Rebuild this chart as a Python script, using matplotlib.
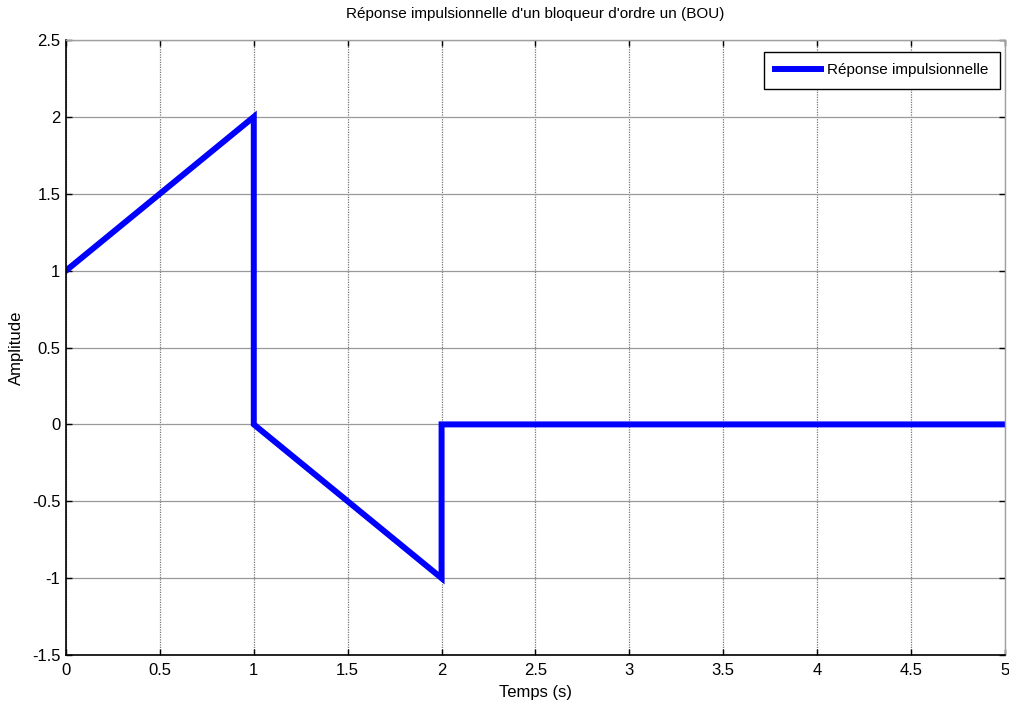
import matplotlib
matplotlib.use('Agg')
import matplotlib.pyplot as plt

# Réponse impulsionnelle du bloqueur d'ordre un
temps = [0, 1, 1, 2, 2, 5]
amplitude = [1, 2, 0, -1, 0, 0]
xticks = [0, 0.5, 1, 1.5, 2, 2.5, 3, 3.5, 4, 4.5, 5]
yticks = [-1.5, -1, -0.5, 0, 0.5, 1, 1.5, 2, 2.5]

plt.rcParams['font.family'] = ['Liberation Sans', 'DejaVu Sans']

fig = plt.figure(figsize=(10.09, 7.13), dpi=100)
ax = fig.add_axes([0.0654, 0.0813, 0.9306, 0.8626])

ax.plot(temps, amplitude, color='#0000ff', linewidth=4.3, label='Réponse impulsionnelle',
        solid_joinstyle='miter')

ax.set_xlim(0, 5)
ax.set_ylim(-1.5, 2.5)
ax.set_xticks(xticks)
ax.set_xticklabels(['0', '0.5', '1', '1.5', '2', '2.5', '3', '3.5', '4', '4.5', '5'])
ax.set_yticks(yticks)
ax.set_yticklabels(['-1.5', '-1', '-0.5', '0', '0.5', '1', '1.5', '2', '2.5'])
ax.tick_params(direction='in', length=4, width=1, labelsize=12, top=True, right=True)
ax.tick_params(axis='x', pad=6)
ax.tick_params(axis='y', pad=4)
# grille : horizontale continue, verticale pointillée
ax.yaxis.grid(True, color='#999999', linestyle='-', linewidth=0.9)
ax.xaxis.grid(True, color='#777777', linestyle=(0, (1, 1)), linewidth=0.9)

for s in ['left', 'bottom']:
    ax.spines[s].set_color('black')
    ax.spines[s].set_linewidth(1.2)
for s in ['top', 'right']:
    ax.spines[s].set_color('#a0a0a0')
    ax.spines[s].set_linewidth(1.0)

ax.set_title("Réponse impulsionnelle d'un bloqueur d'ordre un (BOU)", fontsize=11, pad=16)
ax.set_xlabel('Temps (s)', fontsize=12, labelpad=5)
ax.set_ylabel('Amplitude', fontsize=12, labelpad=6)

leg = ax.legend(loc='upper right', bbox_to_anchor=(0.9947, 0.9805), borderaxespad=0,
                fontsize=11, fancybox=False, edgecolor='black', framealpha=1,
                handlelength=3.0, handletextpad=0.4, borderpad=0.75)
leg.get_frame().set_linewidth(1.0)

fig.savefig('out.png', dpi=100)
